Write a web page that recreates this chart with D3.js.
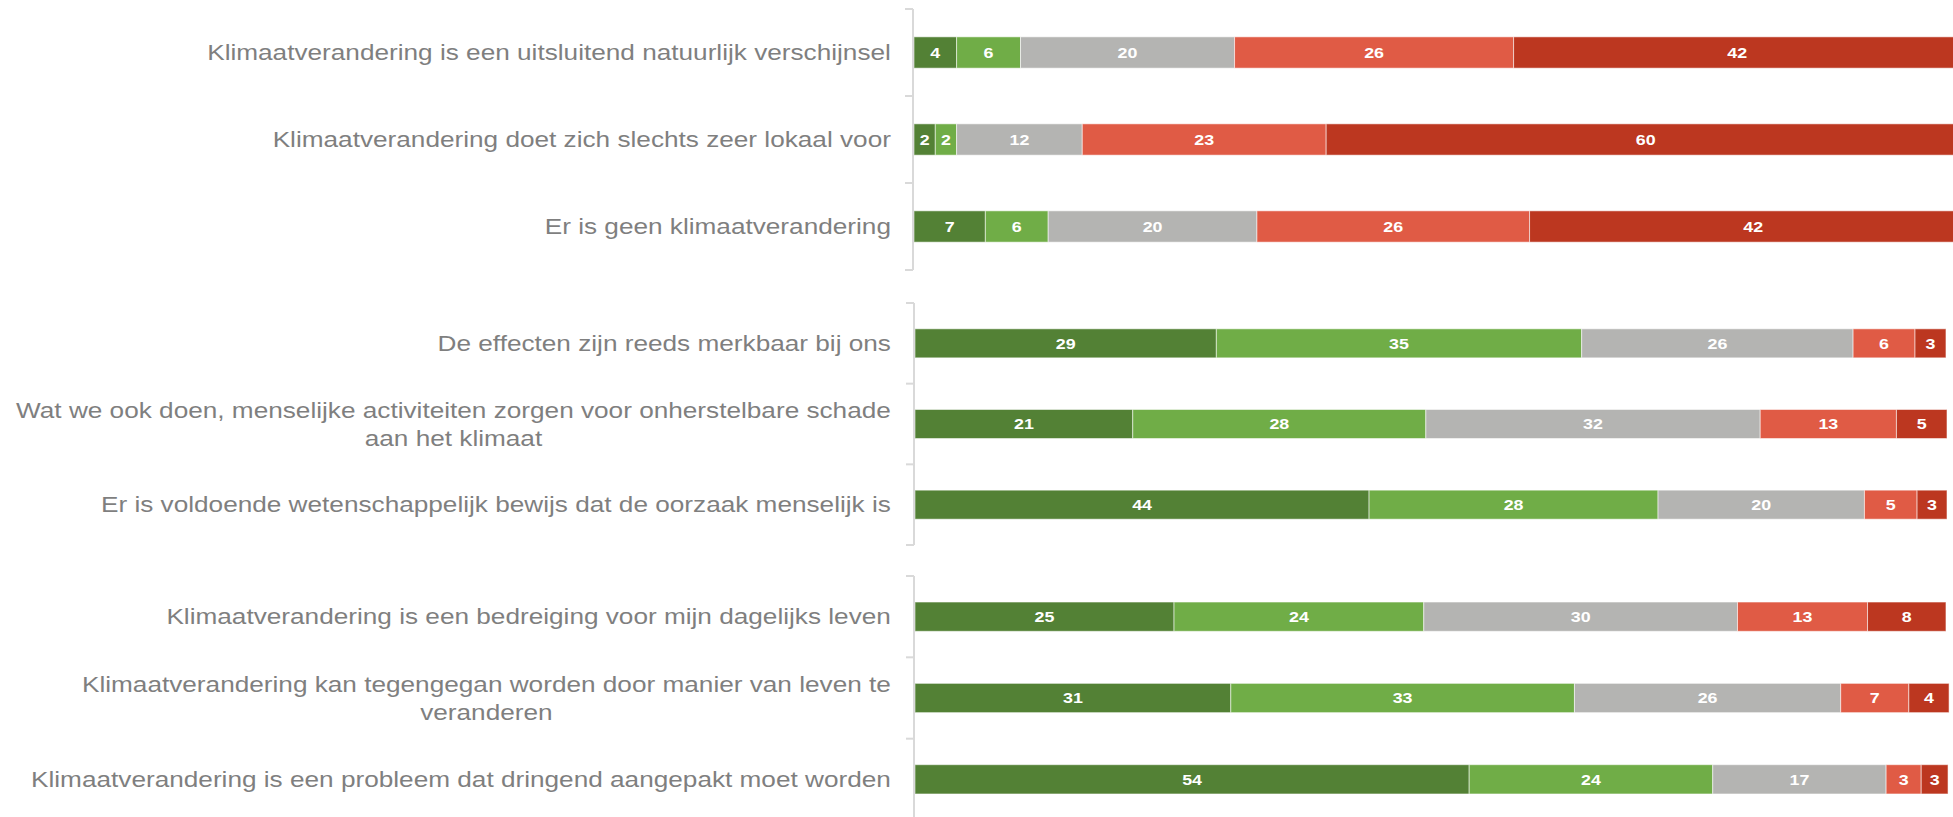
<!DOCTYPE html>
<html>
<head>
<meta charset="utf-8">
<script src="https://cdnjs.cloudflare.com/ajax/libs/d3/7.8.5/d3.min.js"></script>
<style>
  body { margin: 0; background: #fff; }
  svg { display: block; font-family: "Liberation Sans", Arial, sans-serif; }
  .label { fill: #7f7f7f; font-size: 22px; }
  .val { fill: #fff; font-size: 15px; font-weight: bold; }
</style>
</head>
<body>
<div id="plot"></div>
<script>
var width = 1953;
var height = 817;
var stretch = 1.19; // the reference text is drawn a bit wider than normal

// statements, one row per bar (grouped in three blocks)
var statements1 = [
  "Klimaatverandering is een uitsluitend natuurlijk verschijnsel",
  "Klimaatverandering doet zich slechts zeer lokaal voor",
  "Er is geen klimaatverandering"
];
var statements2 = [
  "De effecten zijn reeds merkbaar bij ons",
  "Wat we ook doen, menselijke activiteiten zorgen voor onherstelbare schade\naan het klimaat",
  "Er is voldoende wetenschappelijk bewijs dat de oorzaak menselijk is"
];
var statements3 = [
  "Klimaatverandering is een bedreiging voor mijn dagelijks leven",
  "Klimaatverandering kan tegengegan worden door manier van leven te\nveranderen",
  "Klimaatverandering is een probleem dat dringend aangepakt moet worden"
];

// percentages per answer, in the order of the rows above (block 1, 2, 3)
var stronglyAgree = [4.0, 2.0, 6.7, 29.2, 21.1, 44.0, 25.1, 30.6, 53.7];
var agree         = [6.0, 2.0, 5.9, 35.4, 28.4, 28.0, 24.2, 33.3, 23.6];
var neutral       = [20.1, 11.8, 19.6, 26.3, 32.4, 20.0, 30.4, 25.8, 16.8];
var disagree      = [26.2, 22.9, 25.6, 6.0, 13.2, 5.1, 12.6, 6.6, 3.4];
var stronglyDis   = [42, 60, 42, 3.0, 4.9, 2.9, 7.6, 3.9, 2.6];

var colors = ["#538135", "#70ad47", "#b4b4b2", "#e05b45", "#bc3720"];
var series = [stronglyAgree, agree, neutral, disagree, stronglyDis];

var blocks = [
  { rows: statements1, offset: 0, top: 9, bottom: 270, x0: 914, x1: 1979 },
  { rows: statements2, offset: 3, top: 303, bottom: 545, x0: 915, x1: 1947 },
  { rows: statements3, offset: 6, top: 576, bottom: 820, x0: 915, x1: 1947 }
];

var svg = d3.select("div#plot")
  .append("svg")
    .attr("width", width)
    .attr("height", height);

blocks.forEach(function(b) {
  var g = svg.append("g");

  var xscale = d3.scaleLinear()
    .domain([0, 100])
    .range([b.x0, b.x1]);

  var yscale = d3.scaleBand()
    .domain(b.rows)
    .range([b.top, b.bottom])
    .paddingInner(0.64)
    .paddingOuter(0.32);

  // stack the five answers for each row
  var rows = b.rows.map(function(s, i) {
    var acc = 0;
    return series.map(function(arr, k) {
      var v = arr[b.offset + i];
      var seg = { row: s, k: k, v: v, start: acc, end: acc + v };
      acc += v;
      return seg;
    });
  });

  var seg = g.selectAll("g.seg")
    .data(d3.merge(rows))
    .enter().append("g")
    .attr("class", "seg");

  seg.append("rect")
    .attr("x", function(d) { return xscale(d.start); })
    .attr("y", function(d) { return yscale(d.row); })
    .attr("width", function(d) { return xscale(d.end) - xscale(d.start); })
    .attr("height", yscale.bandwidth())
    .style("fill", function(d) { return colors[d.k]; })
    .style("stroke", "#fff")
    .style("stroke-opacity", 0.55)
    .style("stroke-width", 1);

  seg.append("text")
    .attr("class", "val")
    .attr("transform", function(d) {
      var cx = (xscale(d.start) + xscale(d.end)) / 2;
      var cy = yscale(d.row) + yscale.bandwidth() / 2;
      return "translate(" + cx + "," + cy + ") scale(" + stretch + ",1)";
    })
    .attr("dy", ".35em")
    .attr("text-anchor", "middle")
    .text(function(d) { return Math.round(d.v); });

  // axis line with ticks between the categories
  var step = yscale.step();
  g.append("line")
    .attr("x1", b.x0 - 1).attr("x2", b.x0 - 1)
    .attr("y1", b.top).attr("y2", b.bottom)
    .style("stroke", "#d9d9d9")
    .style("stroke-width", 2);

  g.selectAll("line.tick")
    .data(d3.range(b.rows.length + 1))
    .enter().append("line")
    .attr("class", "tick")
    .attr("x1", b.x0 - 9).attr("x2", b.x0 - 1)
    .attr("y1", function(i) { return b.top + i * step; })
    .attr("y2", function(i) { return b.top + i * step; })
    .style("stroke", "#d9d9d9")
    .style("stroke-width", 2);

  // category labels: lines centred, block right aligned
  b.rows.forEach(function(s) {
    var lines = s.split("\n");
    var cy = yscale(s) + yscale.bandwidth() / 2;
    var t = g.append("text")
      .attr("class", "label")
      .attr("text-anchor", "middle");
    lines.forEach(function(l, j) {
      t.append("tspan")
        .attr("y", (j - (lines.length - 1) / 2) * 28)
        .attr("dy", ".35em")
        .text(l);
    });
    var maxw = 0;
    t.selectAll("tspan").each(function() {
      maxw = Math.max(maxw, this.getComputedTextLength());
    });
    t.selectAll("tspan").attr("x", -maxw / 2);
    t.attr("transform", "translate(891," + cy + ") scale(" + stretch + ",1)");
  });
});
</script>
</body>
</html>
